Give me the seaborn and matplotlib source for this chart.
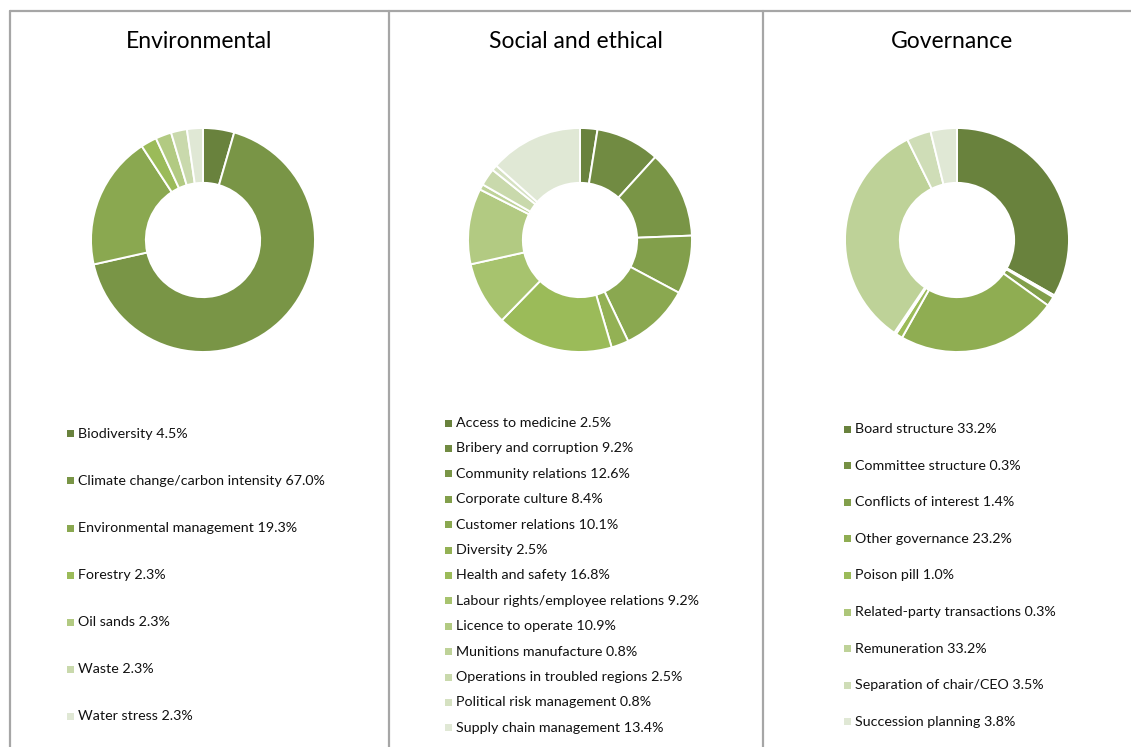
import matplotlib
matplotlib.use("Agg")
import matplotlib.pyplot as plt
from matplotlib.lines import Line2D
from matplotlib.patches import Rectangle
import seaborn as sns

# Share of engagement topics by ESG pillar (%)
env_labels = ["Biodiversity", "Climate change/carbon intensity", "Environmental management",
              "Forestry", "Oil sands", "Waste", "Water stress"]
env_values = [4.5, 67.0, 19.3, 2.3, 2.3, 2.3, 2.3]

soc_labels = ["Access to medicine", "Bribery and corruption", "Community relations",
              "Corporate culture", "Customer relations", "Diversity", "Health and safety",
              "Labour rights/employee relations", "Licence to operate", "Munitions manufacture",
              "Operations in troubled regions", "Political risk management",
              "Supply chain management"]
soc_values = [2.5, 9.2, 12.6, 8.4, 10.1, 2.5, 16.8, 9.2, 10.9, 0.8, 2.5, 0.8, 13.4]

gov_labels = ["Board structure", "Committee structure", "Conflicts of interest",
              "Other governance", "Poison pill", "Related-party transactions",
              "Remuneration", "Separation of chair/CEO", "Succession planning"]
gov_values = [33.2, 0.3, 1.4, 23.2, 1.0, 0.3, 33.2, 3.5, 3.8]

titles = ["Environmental", "Social and ethical", "Governance"]

sns.set_theme(style="white")
plt.rcParams["font.family"] = ["Lato", "DejaVu Sans"]

W, H = 1131, 747
fig = plt.figure(figsize=(W / 100, H / 100), dpi=100)


def fx(x):
    return x / W


def fy(y):
    return 1 - y / H


# panel frame
frame_kw = dict(color="#A6A6A6", linewidth=1.6, transform=fig.transFigure)
fig.add_artist(Line2D([fx(10), 1.0], [fy(11), fy(11)], **frame_kw))
for x in (10, 389, 763):
    fig.add_artist(Line2D([fx(x), fx(x)], [fy(11), 0.0], **frame_kw))

panels = [
    dict(labels=env_labels, values=env_values, cx=203, title_x=199,
         leg_x=70, leg_y0=434, leg_dy=47),
    dict(labels=soc_labels, values=soc_values, cx=580, title_x=576,
         leg_x=448, leg_y0=423, leg_dy=25.4),
    dict(labels=gov_labels, values=gov_values, cx=957, title_x=952,
         leg_x=847, leg_y0=429, leg_dy=36.6),
]

cy, r = 240, 112
for p, title in zip(panels, titles):
    n = len(p["values"])
    colors = sns.blend_palette(["#69823D", "#9BBB59", "#E0E8D5"], n)
    ax = fig.add_axes([fx(p["cx"] - r), fy(cy + r), (2 * r) / W, (2 * r) / H])
    ax.pie(p["values"], colors=colors, startangle=90, counterclock=False,
           radius=1.0, wedgeprops=dict(width=0.49, edgecolor="white", linewidth=1.4))
    ax.set_xlim(-1, 1)
    ax.set_ylim(-1, 1)
    ax.set_aspect("equal")
    ax.axis("off")

    fig.text(fx(p["title_x"]), fy(41), title, ha="center", va="center",
             fontsize=16.5, color="#000000")

    for i, (lab, val) in enumerate(zip(p["labels"], p["values"])):
        y = p["leg_y0"] + i * p["leg_dy"]
        fig.add_artist(Rectangle((fx(p["leg_x"] - 3.5), fy(y + 3.5)), 7 / W, 7 / H,
                                 transform=fig.transFigure, facecolor=colors[i],
                                 edgecolor="none"))
        fig.text(fx(p["leg_x"] + 8), fy(y), f"{lab} {val:.1f}%", ha="left",
                 va="center", fontsize=10.3, color="#111111")

fig.savefig("out.png", dpi=100)
